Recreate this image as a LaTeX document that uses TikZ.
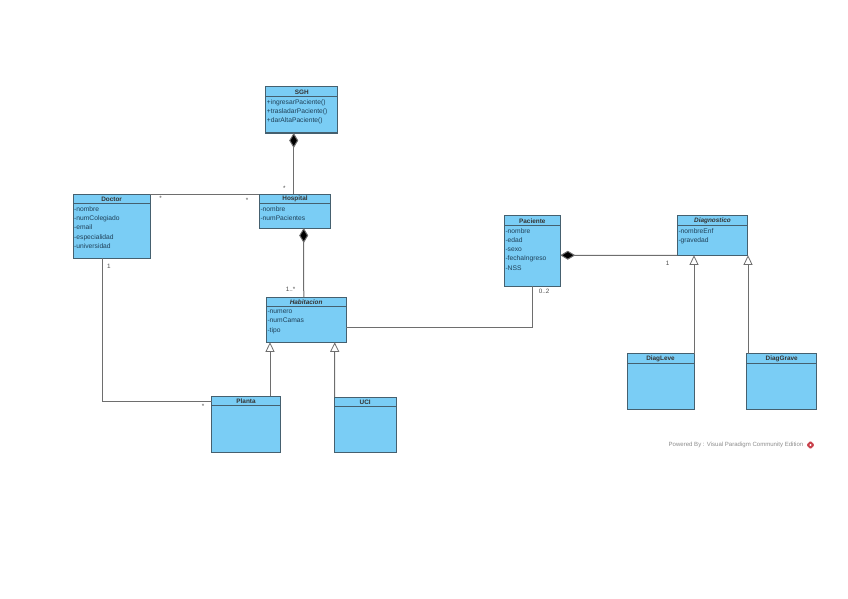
\documentclass[tikz,border=0pt]{standalone}
\usepackage{fontspec}
\setmainfont{Liberation Sans}
\usetikzlibrary{arrows.meta,shapes.geometric}
\definecolor{classFill}{HTML}{7ACDF5}
\definecolor{classEdge}{HTML}{45606F}
\definecolor{classInk}{HTML}{1F4058}
\definecolor{linkGray}{HTML}{6E6E6E}
\definecolor{markRed}{HTML}{C8404A}
\tikzset{
  umlbox/.style={draw=classEdge, fill=classFill, line width=1pt, anchor=north west, inner sep=0pt, outer sep=0pt},
  umltitle/.style={font=\fontsize{6.4}{7}\selectfont\bfseries, text=black!80, inner sep=0pt},
  umlabstract/.style={umltitle, font=\fontsize{6.4}{7}\selectfont\bfseries\itshape},
  umlattr/.style={font=\fontsize{6.7}{9.2}\selectfont, text=classInk, align=left, anchor=north west, inner sep=1pt},
  umlrule/.style={draw=classEdge, line width=0.8pt},
  assoc/.style={draw=linkGray, line width=1pt},
  compo/.style={assoc, {Diamond[length=15pt,width=9pt,fill=black]}-},
  genline/.style={assoc, -{Triangle[open,length=9.5pt,width=9pt,fill=white,line width=0.8pt]}},
  mult/.style={font=\fontsize{6.3}{7}\selectfont, text=black!70, inner sep=0pt}
}

\begin{document}
\begin{tikzpicture}[x=1pt, y=-1pt]
        \useasboundingbox (0,0) rectangle (848,599);
        \node[umlbox, minimum width=72pt, minimum height=46pt] (sgh) at (265.7,87) {};
        \node[umlbox, minimum width=71.4pt, minimum height=34pt] (hospital) at (259.3,194) {};
        \node[umlbox, minimum width=77.3pt, minimum height=64pt] (doctor) at (73,194) {};
        \node[umlbox, minimum width=79.7pt, minimum height=45pt] (habitacion) at (266.3,297.3) {};
        \node[umlbox, minimum width=68.6pt, minimum height=56.4pt] (planta) at (211.7,396.3) {};
        \node[umlbox, minimum width=62.3pt, minimum height=55.7pt] (uci) at (334,397) {};
        \node[umlbox, minimum width=56pt, minimum height=70.3pt] (paciente) at (504.3,215.7) {};
        \node[umlbox, minimum width=70.4pt, minimum height=39.6pt] (diagnostico) at (677.3,215.7) {};
        \node[umlbox, minimum width=67pt, minimum height=55.3pt] (diagleve) at (627,353.7) {};
        \node[umlbox, minimum width=70pt, minimum height=55.3pt] (diaggrave) at (746.7,353.7) {};

        \foreach \cls in {sgh,hospital,doctor,habitacion,planta,uci,paciente,diagnostico,diagleve,diaggrave}
          \draw[umlrule] ([yshift=-9.3pt]\cls.north west) -- ([yshift=-9.3pt]\cls.north east);

        \node[umltitle] (sghTitle) at ([yshift=-5.2pt]sgh.north) {SGH};
        \node[umltitle] (hospitalTitle) at ([yshift=-5.2pt]hospital.north) {Hospital};
        \node[umltitle] (doctorTitle) at ([yshift=-5.2pt]doctor.north) {Doctor};
        \node[umlabstract] (habitacionTitle) at ([yshift=-5.2pt]habitacion.north) {Habitacion};
        \node[umltitle] (plantaTitle) at ([yshift=-5.2pt]planta.north) {Planta};
        \node[umltitle] (uciTitle) at ([yshift=-5.2pt]uci.north) {UCI};
        \node[umltitle] (pacienteTitle) at ([yshift=-5.2pt]paciente.north) {Paciente};
        \node[umlabstract] (diagnosticoTitle) at ([yshift=-5.2pt]diagnostico.north) {Diagnostico};
        \node[umltitle] (diaglTitle) at ([yshift=-5.2pt]diagleve.north) {DiagLeve};
        \node[umltitle] (diaggTitle) at ([yshift=-5.2pt]diaggrave.north) {DiagGrave};

        \node[umlattr] (sghOps) at ([yshift=-11.5pt]sgh.north west) {+ingresarPaciente()\\+trasladarPaciente()\\+darAltaPaciente()};
        \node[umlattr] (hospitalAttrs) at ([yshift=-11.5pt]hospital.north west) {-nombre\\-numPacientes};
        \node[umlattr] (doctorAttrs) at ([yshift=-11.5pt]doctor.north west) {-nombre\\-numColegiado\\-email\\-especialidad\\-universidad};
        \node[umlattr] (habitacionAttrs) at ([yshift=-11.5pt]habitacion.north west) {-numero\\-numCamas\\-tipo};
        \node[umlattr] (pacienteAttrs) at ([yshift=-11.5pt]paciente.north west) {-nombre\\-edad\\-sexo\\-fechaIngreso\\-NSS};
        \node[umlattr] (diagnosticoAttrs) at ([yshift=-11.5pt]diagnostico.north west) {-nombreEnf\\-gravedad};

        \draw[compo] ([xshift=-8pt]sgh.south) -- ([xshift=-1.3pt]hospital.north);
        \draw[compo] ([xshift=8.7pt]hospital.south) -- ([xshift=-2.4pt]habitacion.north);
        \draw[assoc] (doctor.north east) -- (hospital.north west);
        \draw[assoc] ([xshift=-9.4pt]doctor.south) |- ([yshift=-5pt]planta.north west);
        \draw[assoc] ([yshift=-7.5pt]habitacion.east) -| (paciente.south);
        \draw[compo] ([yshift=-4.4pt]paciente.east) -- (diagnostico.south west);
        \draw[genline] ([xshift=-10.3pt]planta.north east) -- ([xshift=3.7pt]habitacion.south west);
        \draw[genline] ([xshift=0.7pt]uci.north west) -- ([xshift=-11.3pt]habitacion.south east);
        \draw[genline] (diagleve.north east) -- ([xshift=-18.5pt]diagnostico.south);
        \draw[genline] ([xshift=1.3pt]diaggrave.north west) -- ([xshift=0.3pt]diagnostico.south east);

        \node[mult] (multDoctorH) at (160.7,198) {*};
        \node[mult] (multHospitalD) at (247,200) {*};
        \node[mult] (multHospitalS) at (284.3,188) {*};
        \node[mult] (multDoctorP) at (109,266) {1};
        \node[mult] (multHabitacion) at (290.7,289) {1..*};
        \node[mult] (multPlanta) at (203,406) {*};
        \node[mult] (multPaciente) at (544,291) {0..2};
        \node[mult] (multDiagnostico) at (667.7,263.3) {1};

        \node[font=\fontsize{6.05}{7}\selectfont, text=black!45, anchor=east, inner sep=0pt] (poweredBy) at (803.5,445) {Powered By : Visual Paradigm Community Edition};
        \node[diamond, fill=markRed, draw=markRed, rounded corners=1pt, minimum size=8pt, inner sep=0pt] (vpMark) at (810.5,445) {};
        \node[diamond, fill=white, minimum size=2.2pt, inner sep=0pt] (vpMarkCore) at (vpMark.center) {};
\end{tikzpicture}
\end{document}
